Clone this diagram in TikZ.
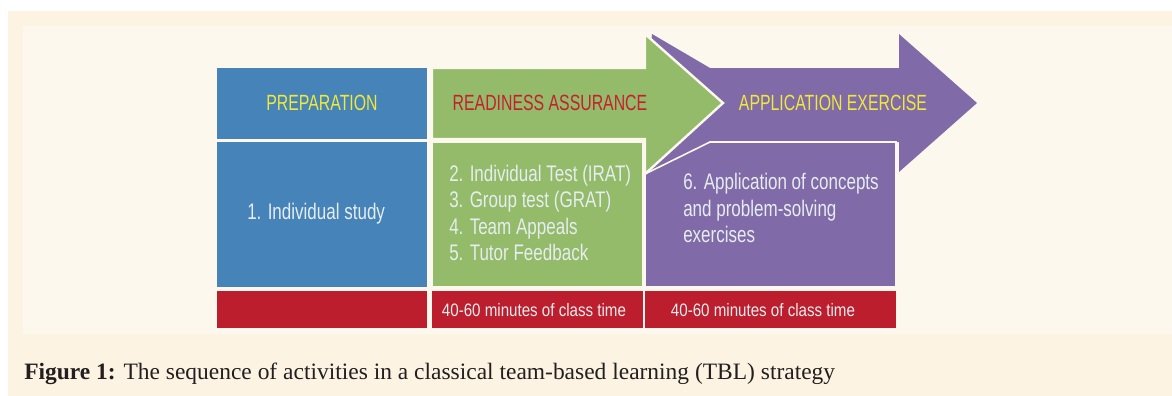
\documentclass[tikz,border=0pt]{standalone}
\usepackage{fontspec}
\setmainfont{Liberation Serif}
\newfontfamily\condHead[FakeStretch=0.72]{Liberation Sans}
\newfontfamily\condBody[FakeStretch=0.755]{Liberation Sans}
\newfontfamily\condFoot[FakeStretch=0.84]{Liberation Sans}
\definecolor{outerbg}{HTML}{FDF3E2}
\definecolor{innerbg}{HTML}{FCF8EE}
\definecolor{cblue}{HTML}{4583B8}
\definecolor{cgreen}{HTML}{94BB6A}
\definecolor{cpurple}{HTML}{806AA8}
\definecolor{cred}{HTML}{BD1E2D}
\definecolor{ylw}{HTML}{F0E83A}
\definecolor{redtxt}{HTML}{C4202F}
\definecolor{lighttxt}{HTML}{E6EDEF}
\definecolor{captxt}{HTML}{231F20}
\begin{document}
\begin{tikzpicture}[x=0.75pt,y=-0.75pt,
  hdr/.style={inner sep=0pt, anchor=base, font=\condHead\fontsize{16.5pt}{20pt}\selectfont},
  bodytxt/.style={inner sep=0pt, anchor=base west, text=lighttxt, font=\condBody\fontsize{16.9pt}{20pt}\selectfont},
  foottxt/.style={inner sep=0pt, anchor=base, text=lighttxt, font=\condFoot\fontsize{13.5pt}{16pt}\selectfont},
  edge/.style={draw=innerbg, line width=1.2pt, line join=miter}
]
\useasboundingbox (0,0) rectangle (1172,396);
\fill[white] (0,0) rectangle (1172,396);
\fill[outerbg] (8,11) rectangle (1172,396);
\fill[innerbg] (23,26) rectangle (1172,334);

% purple arrow (behind)
\fill[cpurple] (652,34) -- (710,68) -- (899,68) -- (899,34) -- (977,103) -- (899,172)
  -- (899,142) -- (710,142) -- (645,174) -- (645,110) -- cycle;
% purple body
\filldraw[fill=cpurple, edge] (710,142) -- (896,142) -- (896,287) -- (645,287) -- (645,174) -- cycle;
% green arrow
\filldraw[fill=cgreen, draw=innerbg, line width=1.8pt, line join=miter]
  (432,68) -- (645,68) -- (645,34) -- (723,103) -- (645,174) -- (645,139) -- (432,139) -- cycle;
% green body
\filldraw[fill=cgreen, edge] (432,142) rectangle (643,287);
% blue boxes
\fill[cblue] (217,68) rectangle (427,139);
\fill[cblue] (217,142) rectangle (427,287);
% red bottom bars
\fill[cred] (217,291) rectangle (427,328);
\fill[cred] (432,291) rectangle (643,328);
\fill[cred] (645,291) rectangle (896,328);

% header texts
\node[hdr, text=ylw] (prep) at (322,110) {PREPARATION};
\node[hdr, text=redtxt] (ready) at (550,110) {READINESS ASSURANCE};
\node[hdr, text=ylw] (appl) at (833,110) {APPLICATION EXERCISE};

% body texts
\node[bodytxt] (study) at (247,219) {1. Individual study};
\node[bodytxt] (irat) at (449,181) {2. Individual Test (IRAT)};
\node[bodytxt] (grat) at (449,207.5) {3. Group test (GRAT)};
\node[bodytxt] (appeal) at (449,234) {4. Team Appeals};
\node[bodytxt] (feedback) at (449,260) {5. Tutor Feedback};
\node[bodytxt] (app1) at (683,189) {6. Application of concepts};
\node[bodytxt] (app2) at (683,216) {and problem-solving};
\node[bodytxt] (app3) at (683,242) {exercises};

% footer texts
\node[foottxt] (time1) at (534,316) {40-60 minutes of class time};
\node[foottxt] (time2) at (763,316) {40-60 minutes of class time};

% caption
\node[inner sep=0pt, anchor=base west, text=captxt, font=\fontsize{17.6pt}{21pt}\selectfont] (caption) at (24,379)
  {\textbf{Figure 1:} The sequence of activities in a classical team-based learning (TBL) strategy};
\end{tikzpicture}
\end{document}
